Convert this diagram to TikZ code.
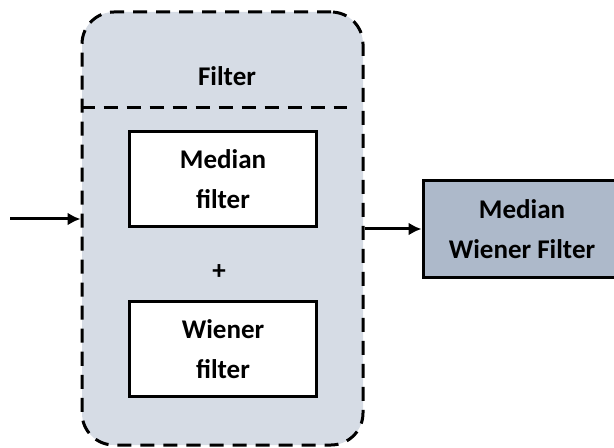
\documentclass[tikz,border=0pt]{standalone}
\usepackage{fontspec}
\setmainfont{Carlito}
\usetikzlibrary{arrows.meta}
\definecolor{groupfill}{HTML}{D6DCE5}
\definecolor{outfill}{HTML}{ADB9CA}
\tikzset{
	blocknode/.style = {
		align=center,
		inner sep=0pt,
		text centered,
		font=\fontsize{13.5}{20}\selectfont\bfseries
	},
	node_group/.style = {
		blocknode,
		rectangle,
		rounded corners=16pt,
		draw=black,
		fill=groupfill,
		line width=1.5pt,
		dash pattern=on 7pt off 4.5pt,
		minimum width=140.5pt,
		minimum height=216.5pt
	},
	node_filter/.style = {
		blocknode,
		rectangle,
		draw=black,
		fill=white,
		line width=1.5pt,
		minimum width=93.5pt,
		minimum height=47.5pt
	},
	node_out/.style = {
		node_filter,
		fill=outfill,
		minimum width=99pt,
		minimum height=48pt
	},
	node_label/.style = {
		blocknode
	},
}

\begin{document}
\begin{tikzpicture}[x=0.5pt,y=-0.5pt,>={Latex[length=6.5pt,width=6.5pt]},line width=1.5pt]
\useasboundingbox (0,0) rectangle (614,448);
\clip (0,0) rectangle (614,448);
% filter group
\node [node_group] (group) at (222.5,228.5) {};
\draw [dash pattern=on 7pt off 4.5pt] (group.west |- 0,108) -- (347,108);
\node [node_label] (title) at (227,76) {Filter};
\node [node_filter] (median) at (223,179.5) {Median\\filter};
\node [node_label] (plus) at (219,272) {+};
\node [node_filter] (wiener) at (223,349) {Wiener\\filter};
% output
\node [node_out] (result) at (522,229) {Median\\Wiener Filter};
\coordinate (input) at (10,219);
\draw [->] (input) -- (input -| group.west);
\draw [->] (group.east |- result.west) -- (result.west);
\end{tikzpicture}
\end{document}
